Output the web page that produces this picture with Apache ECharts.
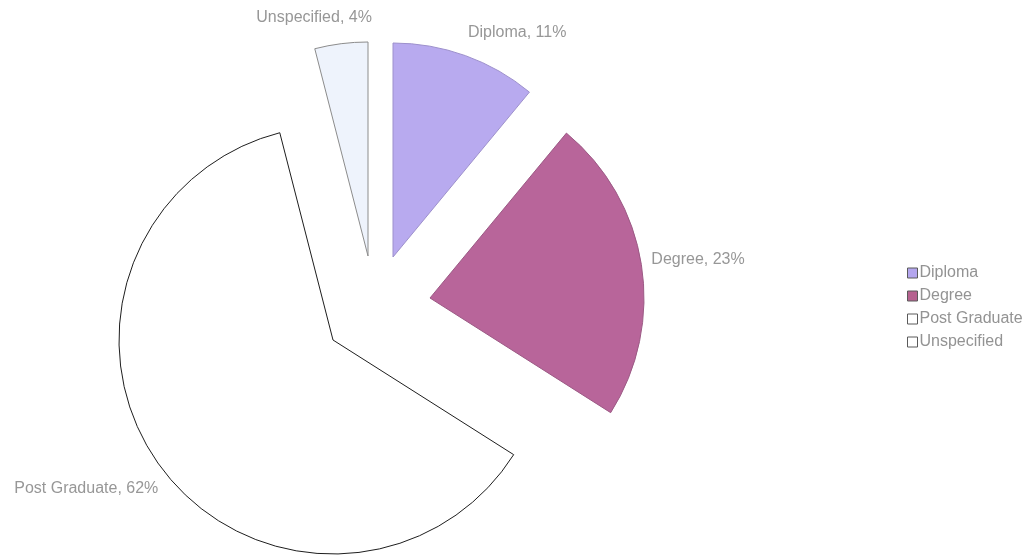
<!DOCTYPE html>
<html>
<head>
<meta charset="utf-8">
<title>Qualification breakdown</title>
<script src="https://cdn.jsdelivr.net/npm/echarts@6/dist/echarts.min.js"></script>
<style>
  html, body { margin: 0; padding: 0; background: #ffffff; }
  #chart { width: 1034px; height: 556px; }
</style>
</head>
<body>
<div id="chart"></div>
<script>
// Share of staff by highest qualification (percent)
const categories = ['Diploma', 'Degree', 'Post Graduate', 'Unspecified'];
const shares = [11, 23, 62, 4];

// Slice appearance
const sliceColors = ['#b8aaef', '#b8659a', '#ffffff', '#eef3fc'];
const sliceBorders = ['#9d90cc', '#9c5a85', '#1e1e1e', '#8c8c8c'];
const legendColors = ['#b4a6ee', '#b6628f', '#ffffff', '#ffffff'];

// Each slice is pulled out from the pie on its own, so every slice gets its own centre
const sliceCenters = [[393, 257], [430, 298], [333, 340], [368, 256]];
// Label leader lengths (lines hidden) and a final nudge, used to place each label beside its slice
const labelLens = [[25, -11], [-79, 89], [39, -35], [26, -39]];
const labelNudges = [[0, 0], [-6, -17], [0, 0], [0, 0]];

const R = 214;
const FONT = '"Liberation Sans", Arial, sans-serif';

const series = categories.map(function (cat, i) {
  return {
    type: 'pie',
    name: cat,
    center: sliceCenters[i],
    radius: R,
    startAngle: 90,
    clockwise: true,
    avoidLabelOverlap: false,
    silent: true,
    animation: false,
    emphasis: { disabled: true },
    label: {
      position: 'outside',
      formatter: '{b}, {d}%',
      color: '#979797',
      fontFamily: FONT,
      fontSize: 16,
      distanceToLabelLine: 5
    },
    labelLine: { show: false, length: labelLens[i][0], length2: labelLens[i][1] },
    labelLayout: { dx: labelNudges[i][0], dy: labelNudges[i][1] },
    data: categories.map(function (name, j) {
      const own = j === i;
      return {
        name: name,
        value: shares[j],
        itemStyle: own
          ? { color: sliceColors[j], borderColor: sliceBorders[j], borderWidth: 1 }
          : { color: 'rgba(0,0,0,0)', borderWidth: 0 },
        label: { show: own }
      };
    })
  };
});

const chart = echarts.init(document.getElementById('chart'), null, { renderer: 'canvas' });
chart.setOption({
  backgroundColor: '#ffffff',
  animation: false,
  legend: {
    orient: 'vertical',
    left: 902,
    top: 260,
    itemWidth: 10,
    itemHeight: 10,
    itemGap: 7,
    icon: 'rect',
    selectedMode: false,
    textStyle: { color: '#939393', fontFamily: FONT, fontSize: 16, padding: [0, 0, 0, -3] },
    data: categories.map(function (name, k) {
      return {
        name: name,
        itemStyle: { color: legendColors[k], borderColor: '#5a5a5a', borderWidth: 1 }
      };
    })
  },
  series: series
});
</script>
</body>
</html>
